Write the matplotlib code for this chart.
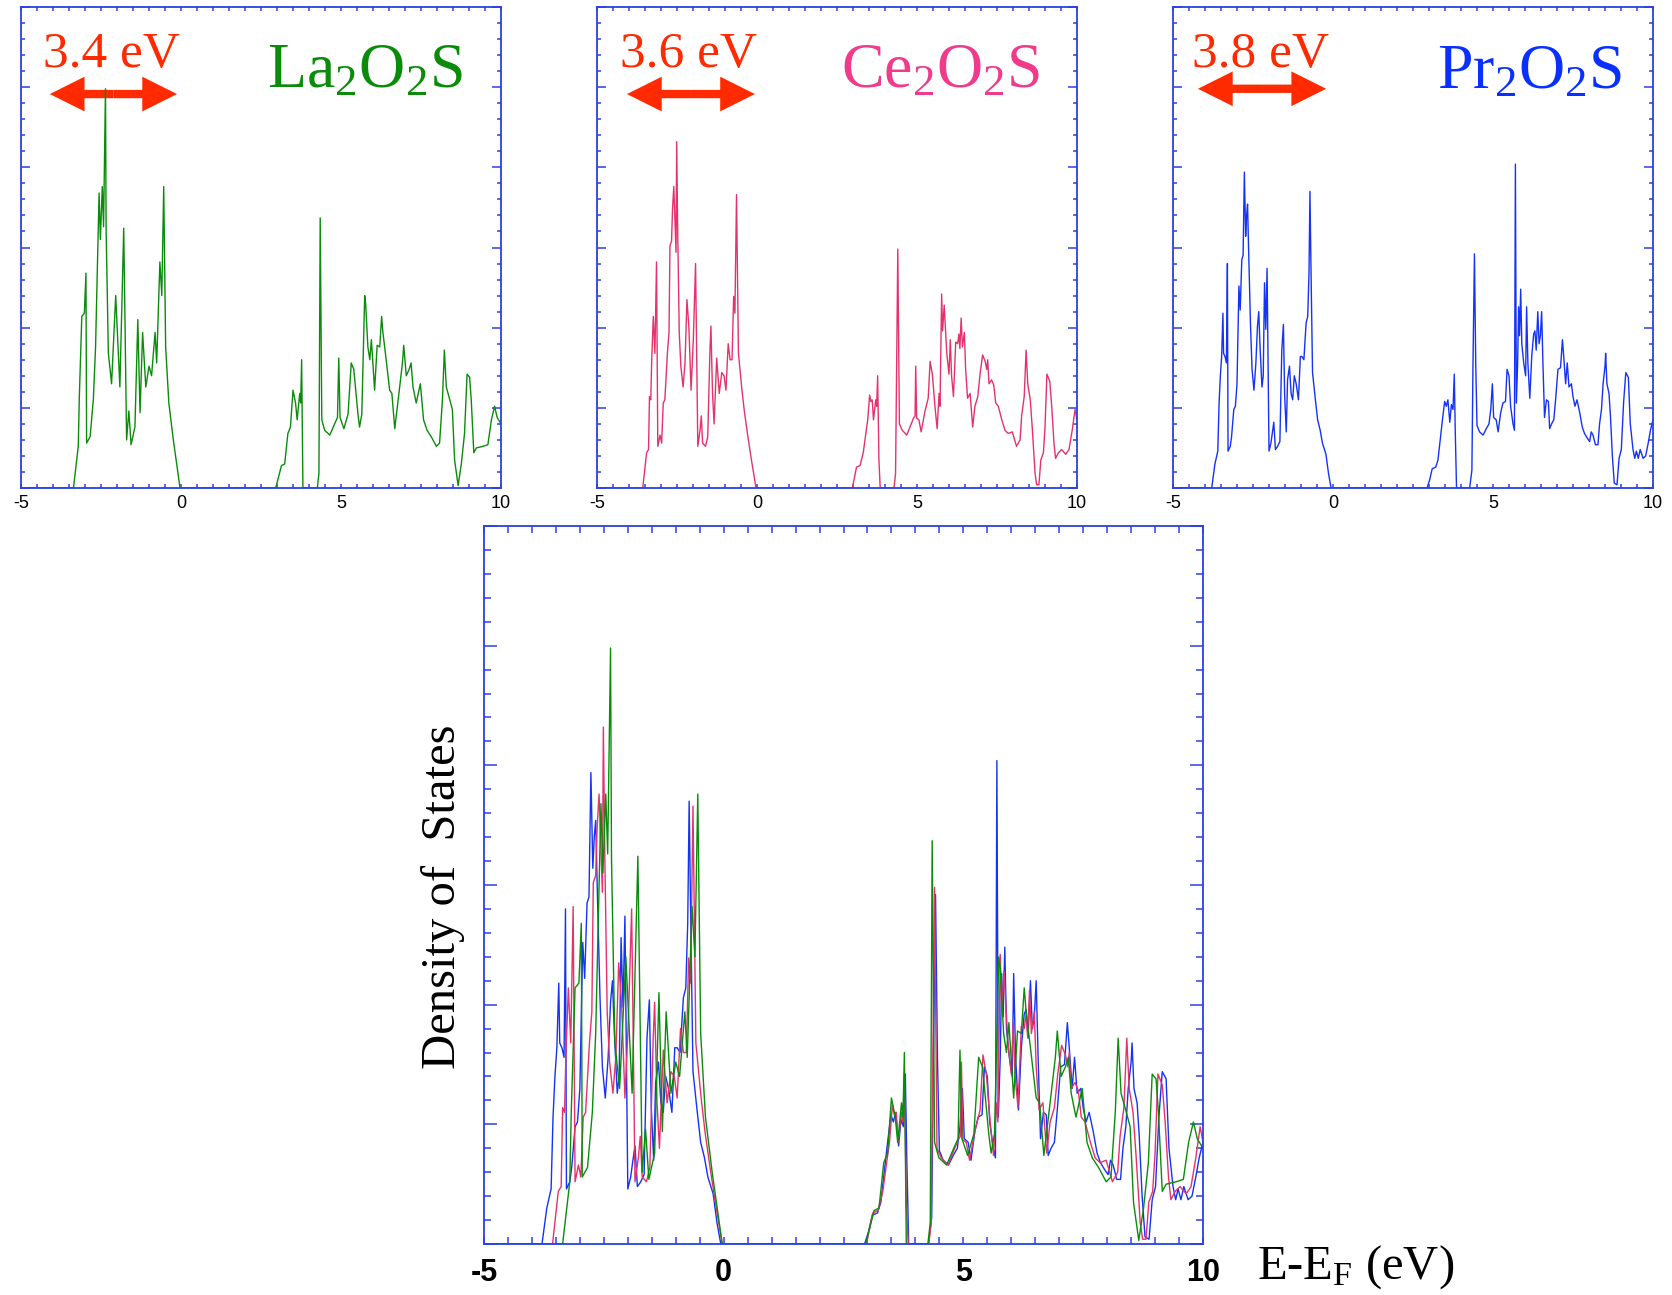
import matplotlib
matplotlib.use('Agg')
import matplotlib.pyplot as plt
from matplotlib.patches import FancyArrowPatch
from matplotlib.ticker import MultipleLocator, FixedLocator, FixedFormatter

plt.rcParams['mathtext.fontset'] = 'custom'
plt.rcParams['mathtext.rm'] = 'Liberation Serif'
plt.rcParams['mathtext.it'] = 'Liberation Serif:italic'
plt.rcParams['mathtext.bf'] = 'Liberation Serif:bold'

# ---------------- data ----------------
xtick_values = [-5, 0, 5, 10]
xtick_labels = ['-5', '0', '5', '10']

la_E = [-5.0, -3.36, -3.21, -3.18, -3.10, -3.02, -2.97, -2.95, -2.84, -2.74, -2.67, -2.56, -2.52,
        -2.46, -2.42, -2.36, -2.34, -2.27, -2.17, -2.04, -1.91, -1.79, -1.70, -1.63, -1.56, -1.44,
        -1.35, -1.28, -1.20, -1.10, -1.00, -0.92, -0.81, -0.76, -0.66, -0.60, -0.54, -0.48, -0.38,
        -0.24, -0.03,
        2.96, 3.14, 3.24, 3.34, 3.42, 3.50, 3.58, 3.63, 3.71, 3.74, 3.77, 3.81, 4.26, 4.31, 4.35,
        4.40, 4.49, 4.65, 4.80, 4.89, 4.93, 4.97, 5.09, 5.22, 5.32, 5.40, 5.53, 5.58, 5.65, 5.74,
        5.77, 5.84, 5.90, 5.95, 6.05, 6.13, 6.21, 6.27, 6.31, 6.40, 6.52, 6.59, 6.68, 6.81, 6.92,
        6.96, 7.04, 7.13, 7.19, 7.25, 7.35, 7.48, 7.58, 7.69, 7.82, 7.98, 8.08, 8.17, 8.23, 8.29,
        8.40, 8.48, 8.55, 8.66, 8.76, 8.86, 8.94, 9.02, 9.07, 9.15, 9.23, 9.44, 9.59, 9.70, 9.80,
        9.88, 10.0]
la_dos = [0.0, 0.0, 2.6, 5.5, 10.7, 10.9, 13.4, 2.8, 3.2, 5.5, 8.8, 18.4, 15.5,
          18.8, 16.3, 24.9, 16.1, 8.4, 6.5, 12.0, 6.3, 16.2, 3.0, 4.8, 2.7, 3.8,
          10.5, 4.7, 9.7, 6.3, 7.6, 7.0, 9.7, 7.8, 14.1, 12.0, 18.8, 8.8, 5.3,
          3.0, 0.0,
          0.0, 1.4, 1.5, 3.4, 3.8, 6.1, 5.3, 4.25, 5.9, 5.3, 8.0, 0.0, 0.0, 0.9, 16.85,
          4.25, 3.6, 3.3, 4.0, 4.4, 8.1, 4.4, 3.7, 4.6, 7.8, 7.4, 4.6, 3.8, 4.6, 12.0,
          11.5, 8.8, 8.0, 9.25, 6.1, 8.9, 8.8, 10.7, 9.7, 8.2, 6.1, 5.9, 3.7, 5.9, 7.8,
          8.9, 7.0, 7.4, 7.8, 6.3, 5.3, 6.5, 4.25, 3.6, 3.2, 2.6, 2.8, 5.5, 8.6, 6.3,
          5.5, 4.9, 1.75, 0.15, 1.5, 3.4, 7.1, 6.9, 5.5, 2.2, 2.5, 2.6, 2.7, 4.25, 5.1,
          4.4, 4.0]

ce_E = [-5.0, -3.57, -3.45, -3.39, -3.36, -3.32, -3.29, -3.24, -3.19, -3.14, -3.10, -3.03, -2.98,
        -2.93, -2.88, -2.80, -2.75, -2.72, -2.67, -2.64, -2.60, -2.57, -2.53, -2.51, -2.48, -2.43,
        -2.38, -2.31, -2.25, -2.19, -2.13, -2.06, -1.99, -1.92, -1.85, -1.78, -1.74, -1.70, -1.61,
        -1.54, -1.47, -1.44, -1.39, -1.34, -1.26, -1.18, -1.10, -1.03, -0.97, -0.90, -0.84, -0.78,
        -0.73, -0.69, -0.64, -0.58, -0.47, -0.39, -0.27, -0.17, -0.03,
        2.98, 3.11, 3.22, 3.32, 3.40, 3.46, 3.52, 3.56, 3.60, 3.64, 3.71, 3.74, 3.77, 3.81, 3.85,
        4.28, 4.33, 4.40, 4.45, 4.54, 4.68, 4.78, 4.89, 4.94, 4.96, 4.99, 5.06, 5.13, 5.25, 5.35,
        5.41, 5.48, 5.56, 5.63, 5.69, 5.72, 5.77, 5.80, 5.85, 5.93, 6.00, 6.04, 6.08, 6.14, 6.21,
        6.27, 6.31, 6.34, 6.38, 6.42, 6.48, 6.52, 6.58, 6.66, 6.74, 6.81, 6.90, 6.97, 7.05, 7.13,
        7.18, 7.21, 7.25, 7.33, 7.40, 7.46, 7.54, 7.65, 7.75, 7.85, 7.98, 8.11, 8.22, 8.27, 8.35,
        8.41, 8.46, 8.54, 8.60, 8.69, 8.74, 8.81, 8.87, 8.95, 9.00, 9.06, 9.15, 9.21, 9.28, 9.33,
        9.42, 9.52, 9.65, 9.75, 9.85, 9.94, 10.0]
ce_dos = [0.0, 0.0, 2.2, 2.4, 5.7, 5.5, 8.0, 10.7, 8.4, 14.1, 2.6, 3.3, 2.8,
          5.3, 5.5, 8.4, 9.7, 15.1, 15.4, 17.4, 18.8, 17.0, 14.7, 21.6, 16.3, 9.7,
          7.6, 6.3, 7.8, 11.75, 10.1, 6.1, 9.25, 14.0, 2.6, 3.6, 4.5, 2.8, 2.6,
          3.2, 8.6, 10.1, 5.9, 4.0, 8.1, 5.9, 7.2, 7.0, 6.1, 9.0, 8.0, 8.0,
          11.95, 10.9, 18.3, 8.4, 6.1, 4.7, 3.0, 1.7, 0.0,
          0.0, 1.3, 1.4, 2.2, 3.4, 4.25, 5.8, 5.4, 5.5, 4.25, 5.5, 5.1, 7.0, 1.75, 0.0,
          0.0, 0.9, 14.9, 4.0, 3.6, 3.3, 3.8, 4.35, 4.5, 7.6, 4.35, 4.25, 3.5, 4.8, 5.6,
          7.9, 7.1, 5.1, 3.7, 5.9, 5.1, 12.1, 9.8, 11.4, 8.4, 7.1, 9.25, 7.0, 5.7, 9.1,
          9.0, 9.6, 8.7, 10.6, 8.8, 9.7, 7.4, 5.6, 5.9, 3.8, 5.1, 5.7, 7.1, 8.3, 7.9,
          7.4, 8.0, 6.5, 6.75, 6.4, 5.3, 5.1, 4.25, 3.6, 3.4, 3.5, 2.6, 3.0, 4.5, 5.7,
          8.6, 6.5, 5.5, 3.8, 0.9, 0.2, 0.2, 1.75, 2.2, 3.8, 7.1, 6.65, 5.1, 2.8, 1.85,
          2.2, 2.4, 2.1, 2.4, 3.6, 4.9, 4.25]

pr_E = [-5.0, -3.79, -3.69, -3.60, -3.56, -3.52, -3.48, -3.44, -3.42, -3.375, -3.33, -3.30, -3.28,
        -3.21, -3.17, -3.10, -3.05, -3.00, -2.94, -2.90, -2.85, -2.81, -2.77, -2.73, -2.70, -2.67,
        -2.64, -2.58, -2.53, -2.47, -2.41, -2.36, -2.32, -2.28, -2.22, -2.18, -2.14, -2.10, -2.06,
        -2.03, -2.00, -1.94, -1.90, -1.85, -1.80, -1.73, -1.66, -1.60, -1.55, -1.51, -1.46, -1.42,
        -1.36, -1.31, -1.26, -1.21, -1.15, -1.08, -1.02, -0.97, -0.91, -0.84, -0.79, -0.75, -0.72,
        -0.69, -0.64, -0.55, -0.48, -0.40, -0.33, -0.22, -0.14, -0.06,
        2.94, 3.02, 3.10, 3.21, 3.28, 3.35, 3.42, 3.49, 3.54, 3.59, 3.65, 3.70, 3.75, 3.79, 3.82,
        3.86, 4.27, 4.34, 4.375, 4.42, 4.46, 4.50, 4.58, 4.69, 4.79, 4.875, 4.93, 4.98, 5.02, 5.10,
        5.16, 5.24, 5.31, 5.39, 5.44, 5.50, 5.55, 5.625, 5.67, 5.70, 5.73, 5.77, 5.80, 5.83, 5.865,
        5.90, 5.96, 6.02, 6.05, 6.09, 6.15, 6.21, 6.27, 6.31, 6.35, 6.40, 6.44, 6.48, 6.52, 6.56,
        6.61, 6.67, 6.73, 6.77, 6.83, 6.90, 6.96, 7.03, 7.11, 7.17, 7.21, 7.27, 7.32, 7.375, 7.45,
        7.50, 7.56, 7.625, 7.71, 7.79, 7.86, 7.95, 8.02, 8.07, 8.125, 8.20, 8.28, 8.33, 8.39, 8.44,
        8.50, 8.52, 8.56, 8.625, 8.67, 8.73, 8.79, 8.875, 8.94, 9.01, 9.08, 9.15, 9.23, 9.29, 9.375,
        9.43, 9.48, 9.54, 9.60, 9.69, 9.77, 9.85, 9.92, 10.0]
pr_dos = [0.0, 0.0, 1.5, 2.3, 5.3, 7.0, 8.2, 10.9, 8.4, 8.2, 7.8, 14.0, 2.3,
          2.6, 3.2, 4.9, 5.1, 6.5, 12.6, 11.1, 14.25, 14.5, 19.7, 15.7, 17.0, 17.7,
          15.1, 10.3, 7.4, 6.1, 7.8, 10.1, 11.0, 8.8, 6.3, 7.0, 12.8, 9.9, 13.7,
          8.2, 2.3, 2.8, 3.4, 4.1, 2.4, 2.6, 2.9, 8.6, 10.2, 5.7, 3.5, 6.75,
          7.6, 5.9, 5.5, 7.0, 6.5, 5.5, 8.2, 8.2, 8.0, 10.3, 10.7, 13.4, 18.5,
          14.0, 7.2, 5.5, 4.25, 3.6, 2.8, 2.1, 0.9, 0.0,
          0.0, 0.5, 1.2, 1.3, 1.75, 3.0, 4.25, 5.4, 5.1, 5.5, 4.1, 5.2, 4.9, 7.1, 3.6,
          0.0, 0.0, 1.1, 7.8, 14.6, 7.8, 3.9, 3.5, 3.3, 3.7, 4.0, 4.9, 6.5, 4.4, 4.25,
          3.5, 4.7, 5.3, 5.4, 7.4, 7.0, 5.1, 4.0, 3.6, 20.2, 5.3, 7.8, 11.3, 9.5, 12.4,
          9.0, 7.8, 7.0, 11.3, 7.8, 5.6, 8.2, 9.6, 9.8, 8.6, 11.0, 9.0, 9.5, 11.0, 7.8,
          4.4, 5.5, 5.4, 3.7, 4.0, 4.25, 5.6, 7.4, 7.5, 9.25, 8.2, 6.5, 7.8, 6.3, 6.5,
          5.7, 5.1, 5.5, 4.7, 3.8, 3.4, 3.1, 2.9, 3.5, 3.3, 2.7, 2.7, 4.0, 4.9, 6.5,
          7.6, 8.4, 6.5, 5.9, 4.5, 2.0, 0.3, 0.2, 1.85, 2.4, 5.3, 7.2, 6.9, 4.0, 2.4,
          1.85, 2.3, 1.85, 2.4, 1.85, 2.0, 2.8, 3.6, 4.25]

compounds = ['La', 'Ce', 'Pr']
gap_labels = ['3.4 eV', '3.6 eV', '3.8 eV']
formula_labels = [r'La$_\mathrm{2}$O$_\mathrm{2}$S', r'Ce$_\mathrm{2}$O$_\mathrm{2}$S',
                  r'Pr$_\mathrm{2}$O$_\mathrm{2}$S']

# ---------------- styling ----------------
GREEN = '#0a8c0a'
PINK = '#e3336b'
BLUE = '#1433f5'
RED = '#ff2a00'
SPINE = '#2b40e6'
line_colors = [GREEN, PINK, BLUE]
text_colors = [GREEN, '#f03a8a', '#0a30ff']
series = [(la_E, la_dos), (ce_E, ce_dos), (pr_E, pr_dos)]

W, H = 1672, 1295
fig = plt.figure(figsize=(W / 100, H / 100), dpi=100)


def add_ax(x0, y0, x1, y1):
    return fig.add_axes([x0 / W, 1 - y1 / H, (x1 - x0) / W, (y1 - y0) / H])


def style(ax, big):
    ax.set_xlim(-5, 10)
    ax.set_ylim(0, 30)
    for s in ax.spines.values():
        s.set_color(SPINE)
        s.set_linewidth(1.3)
    ax.xaxis.set_major_locator(FixedLocator(xtick_values))
    ax.xaxis.set_major_formatter(FixedFormatter(xtick_labels))
    ax.xaxis.set_minor_locator(MultipleLocator(0.5))
    ax.yaxis.set_major_locator(MultipleLocator(5))
    ax.yaxis.set_minor_locator(MultipleLocator(1))
    ax.tick_params(which='both', direction='in', top=True, right=True,
                   color=SPINE, width=1.1, labelleft=False)
    if big:
        ax.tick_params(axis='x', which='both', length=5)
        ax.tick_params(axis='y', which='minor', length=5)
        ax.tick_params(axis='y', which='major', length=9.5)
        ax.tick_params(axis='x', which='major', pad=10)
        for lab in ax.get_xticklabels():
            lab.set_fontfamily('Liberation Sans')
            lab.set_fontweight('bold')
            lab.set_fontsize(22)
    else:
        ax.tick_params(axis='x', which='both', length=3.2)
        ax.tick_params(axis='y', which='minor', length=3.2)
        ax.tick_params(axis='y', which='major', length=6.3)
        ax.tick_params(axis='x', which='major', pad=5)
        for lab in ax.get_xticklabels():
            lab.set_fontfamily('Liberation Sans')
            lab.set_fontsize(13)


def double_arrow(ax, x0, x1, y):
    xm = (x0 + x1) / 2
    for xe in (x0, x1):
        ax.add_patch(FancyArrowPatch((xm, y), (xe, y), transform=ax.transAxes,
                                     arrowstyle='simple,head_length=25,head_width=25,tail_width=6',
                                     mutation_scale=1, color=RED, lw=0,
                                     shrinkA=0, shrinkB=0, clip_on=False))


top_boxes = [(21, 7, 501, 488), (597, 7, 1077, 488), (1173, 7, 1653, 488)]
arrow_pos = [(0.060, 0.325, 0.819), (0.0625, 0.329, 0.819), (0.052, 0.319, 0.830)]
gap_pos = [(0.046, 0.875), (0.048, 0.875), (0.040, 0.875)]
formula_pos = [(0.921, 0.834), (0.923, 0.834), (0.935, 0.832)]

for i, box in enumerate(top_boxes):
    ax = add_ax(*box)
    E, D = series[i]
    ax.plot(E, D, color=line_colors[i], lw=1.0)
    style(ax, big=False)
    double_arrow(ax, *arrow_pos[i])
    ax.text(gap_pos[i][0], gap_pos[i][1], gap_labels[i], transform=ax.transAxes,
            ha='left', va='baseline', fontsize=37, family='Liberation Serif', color=RED)
    ax.text(formula_pos[i][0], formula_pos[i][1], formula_labels[i], transform=ax.transAxes,
            ha='right', va='baseline', fontsize=46, family='Liberation Serif',
            color=text_colors[i])

axb = add_ax(484, 526, 1203, 1244)
for i in (2, 1, 0):
    E, D = series[i]
    axb.plot(E, D, color=line_colors[i], lw=1.0)
style(axb, big=True)

fig.text(443 / W, 1 - 897 / H, 'Density of  States', rotation=90, fontsize=35,
         family='Liberation Serif', ha='center', va='center')
fig.text(1257 / W, 1 - 1279 / H, r'E-E$_\mathrm{F}$ (eV)', fontsize=35,
         family='Liberation Serif', ha='left', va='baseline')

fig.savefig('out.png', dpi=100)
